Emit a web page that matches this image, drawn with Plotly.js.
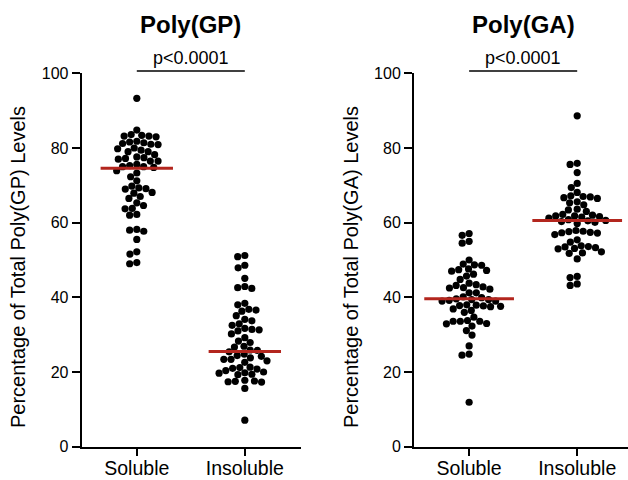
<!DOCTYPE html>
<html><head><meta charset="utf-8">
<script src="https://cdn.plot.ly/plotly-3.0.1.min.js"></script>
<style>html,body{margin:0;padding:0;background:#fff}</style>
</head><body><div id="chart" style="width:628px;height:480px"></div>
<script>
const categories = ['Soluble', 'Insoluble'];
const panelTitles = ['Poly(GP)', 'Poly(GA)'];
const yTitles = ['Percentage of Total Poly(GP) Levels', 'Percentage of Total Poly(GA) Levels'];
const pValues = ['p<0.0001', 'p<0.0001'];
const yTickVals = [0, 20, 40, 60, 80, 100];

const gpSoluble = [93.3, 84.8, 83.6, 83.4, 83.2, 83.2, 83.0,
  81.6, 81.2, 80.9, 81.0, 81.4, 81.8,
  80.0, 79.4, 79.0, 78.2, 79.0, 79.8,
  77.4, 77.0, 76.5, 76.5, 77.2, 77.6,
  75.3, 75.0, 74.8, 75.0, 75.6,
  73.9, 73.3, 72.3, 71.2, 69.8, 69.3, 69.1, 69.0, 68.1, 67.9, 67.0, 66.5,
  65.3, 64.6, 63.8, 63.7, 62.2, 62.0, 58.2, 58.0, 57.7, 55.5, 52.2, 51.6, 49.3, 49.0];
const gpInsoluble = [51.2, 50.9, 48.6, 47.9, 45.1, 42.9, 42.4, 42.6, 38.4, 38.0, 36.8, 36.3, 36.6,
  35.1, 34.1, 33.7, 32.9, 32.5, 31.7, 31.4, 31.0, 31.3, 30.2, 29.2, 28.3, 27.9, 26.9, 26.7,
  25.9, 25.4, 25.8, 24.4, 24.8, 23.4, 22.6, 23.0, 23.4, 23.8, 24.2, 21.2, 20.8, 20.0, 19.3,
  19.7, 19.4, 19.8, 20.4, 21.0, 21.3, 17.6, 17.3, 17.8, 17.4, 17.5, 15.6, 7.1];
const gaSoluble = [57.1, 56.6, 55.0, 54.5, 50.0, 48.9, 48.6, 48.7, 47.6, 47.0, 47.4, 47.2, 46.2,
  45.7, 44.8, 43.8, 43.2, 43.4, 42.6, 42.2, 42.5, 42.8, 41.2, 41.2, 39.9, 39.4, 39.2, 39.0,
  39.0, 39.4, 39.6, 40.1, 37.9, 37.6, 37.8, 37.7, 38.0, 37.5, 36.0, 36.5, 36.9, 34.7, 33.6,
  33.6, 33.8, 33.6, 33.0, 32.9, 32.3, 31.1, 29.9, 27.0, 24.8, 24.5, 11.9];
const gaInsoluble = [88.6, 75.9, 75.6, 73.4, 70.5, 69.4, 68.1, 67.2, 66.9, 66.7, 66.5, 67.0, 65.6,
  65.3, 64.8, 63.6, 63.4, 63.0, 62.0, 61.8, 61.6, 61.5, 61.8, 62.2, 61.2, 60.8, 60.5, 60.3,
  59.8, 60.1, 60.6, 57.9, 57.7, 57.4, 57.2, 57.3, 57.6, 56.8, 55.4, 54.8, 53.8, 53.5, 53.0,
  53.1, 53.3, 53.6, 52.2, 51.8, 51.9, 50.3, 45.6, 45.3, 43.6, 43.2];
const gpMedians = [74.6, 25.5];
const gaMedians = [39.6, 60.6];

const W = 628, H = 480;
const FONT = 'Liberation Sans, Arial, Helvetica, sans-serif';
const plotTop = 73.3, plotBottom = 446.7;
const panels = [
  {x0: 81.7, x1: 301, range: [-0.51, 1.52], groups: [gpSoluble, gpInsoluble], medians: gpMedians, halfW: 0.335},
  {x0: 414, x1: 628, range: [-0.51, 1.47], groups: [gaSoluble, gaInsoluble], medians: gaMedians, halfW: 0.415}
];
const pxPerY = (plotBottom - plotTop) / 100;

function swarm(vals, pxPerX, dist) {
  const order = vals.map((v, i) => i).sort((a, b) => vals[b] - vals[a]);
  const placed = [];
  const out = new Array(vals.length).fill(0);
  for (const i of order) {
    const y = vals[i] * pxPerY;
    const cands = [0];
    for (const p of placed) {
      const dy = Math.abs(p.y - y);
      if (dy < dist) {
        const dx = Math.sqrt(dist * dist - dy * dy);
        cands.push(p.x + dx, p.x - dx);
      }
    }
    cands.sort((a, b) => Math.abs(a) - Math.abs(b) || a - b);
    let best = 0;
    for (const c of cands) {
      let ok = true;
      for (const p of placed) {
        const dx = p.x - c, dy = p.y - y;
        if (dx * dx + dy * dy < dist * dist - 1e-6) { ok = false; break; }
      }
      if (ok) { best = c; break; }
    }
    placed.push({x: best, y: y});
    out[i] = best / pxPerX;
  }
  return out;
}

const traces = [];
const shapes = [];
const annotations = [];
const layout = {
  width: W, height: H,
  margin: {l: 0, r: 0, t: 0, b: 0},
  paper_bgcolor: '#fff', plot_bgcolor: '#fff',
  showlegend: false,
  font: {family: FONT, color: '#000'},
  shapes: shapes, annotations: annotations
};

panels.forEach((pn, k) => {
  const xa = k === 0 ? 'x' : 'x2';
  const ya = k === 0 ? 'y' : 'y2';
  const pxPerX = (pn.x1 - pn.x0) / (pn.range[1] - pn.range[0]);
  pn.groups.forEach((vals, c) => {
    const offs = swarm(vals, pxPerX, 7.2);
    traces.push({
      type: 'scatter', mode: 'markers', xaxis: xa, yaxis: ya,
      x: vals.map((v, i) => c + offs[i]), y: vals,
      marker: {size: 7.2, color: '#000'}, cliponaxis: false, hoverinfo: 'y'
    });
  });
  pn.medians.forEach((m, c) => {
    traces.push({
      type: 'scatter', mode: 'lines', xaxis: xa, yaxis: ya,
      x: [c - pn.halfW, c + pn.halfW], y: [m, m],
      line: {color: '#B3261E', width: 3}, cliponaxis: false, hoverinfo: 'skip'
    });
  });
  const axX = {
    domain: [pn.x0 / W, pn.x1 / W], range: pn.range, anchor: ya,
    tickvals: [0, 1], ticktext: categories,
    showline: true, linewidth: 2, linecolor: '#000',
    ticks: 'outside', ticklen: 7, tickwidth: 2, tickcolor: '#000',
    ticklabelstandoff: -4,
    showgrid: false, zeroline: false, fixedrange: true,
    tickfont: {size: 19.5, family: FONT, color: '#000'}
  };
  const axY = {
    domain: [(H - plotBottom) / H, (H - plotTop) / H], range: [0, 100], anchor: xa,
    tickvals: yTickVals,
    showline: true, linewidth: 2, linecolor: '#000',
    ticks: 'outside', ticklen: 8, tickwidth: 2, tickcolor: '#000',
    showgrid: false, zeroline: false, fixedrange: true,
    tickfont: {size: 16, family: FONT, color: '#000'}
  };
  layout[k === 0 ? 'xaxis' : 'xaxis2'] = axX;
  layout[k === 0 ? 'yaxis' : 'yaxis2'] = axY;

  annotations.push({
    xref: xa, yref: 'paper', x: 0.5, y: (H - 24) / H, yanchor: 'middle', xanchor: 'center',
    text: '<b>' + panelTitles[k] + '</b>', showarrow: false,
    font: {size: 24, family: FONT, color: '#000'}
  });
  annotations.push({
    xref: xa, yref: 'paper', x: 0.5, y: (H - 70) / H, yanchor: 'bottom', xanchor: 'center',
    text: pValues[k], showarrow: false, font: {size: 18, family: FONT, color: '#000'}
  });
  shapes.push({
    type: 'line', xref: xa, yref: 'paper', x0: 0, x1: 1,
    y0: (H - 71) / H, y1: (H - 71) / H, line: {color: '#000', width: 1.5}
  });
  annotations.push({
    xref: 'paper', yref: 'paper', x: (k === 0 ? 18 : 351) / W, y: (H - 267) / H,
    xanchor: 'center', yanchor: 'middle', textangle: -90,
    text: yTitles[k], showarrow: false, font: {size: 20, family: FONT, color: '#000'}
  });
});

Plotly.newPlot('chart', traces, layout, {displayModeBar: false, staticPlot: true});
</script></body></html>
